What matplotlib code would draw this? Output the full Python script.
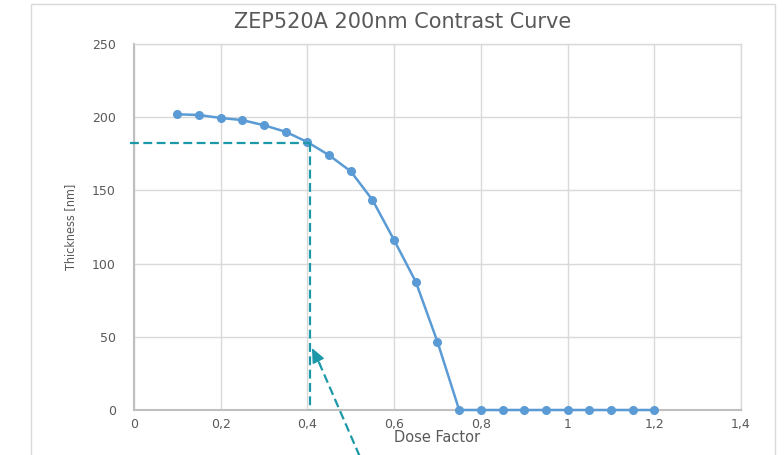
import matplotlib
matplotlib.use("Agg")
import matplotlib.pyplot as plt
from matplotlib.patches import Rectangle

dose = [0.10, 0.15, 0.20, 0.25, 0.30, 0.35, 0.40, 0.45, 0.50, 0.55, 0.60, 0.65, 0.70,
        0.75, 0.80, 0.85, 0.90, 0.95, 1.00, 1.05, 1.10, 1.15, 1.20]
thickness = [202, 201.5, 199.5, 198, 194.5, 190, 183, 174, 163, 143.5, 116, 87.5, 46.5,
             0, 0, 0, 0, 0, 0, 0, 0, 0, 0]
xticks = [0, 0.2, 0.4, 0.6, 0.8, 1.0, 1.2, 1.4]
xtick_labels = ["0", "0,2", "0,4", "0,6", "0,8", "1", "1,2", "1,4"]
yticks = [0, 50, 100, 150, 200, 250]
ytick_labels = ["0", "50", "100", "150", "200", "250"]
marker_dose = 0.407
marker_thick = 182.5
arrow_tip = (0.4105, 42.3)
arrow_tail = (0.527, -36)

W, H = 784, 455
fig = plt.figure(figsize=(W / 100, H / 100), dpi=100)
ax = fig.add_axes([134 / W, 1 - 410 / H, (741 - 134) / W, (410 - 44) / H])

txt = "#595959"
blue = "#5B9BD5"
teal = "#1D98A8"
grid = "#D9D9D9"

# chart area border
fig.patches.append(Rectangle((31 / W, -0.05), (775 - 31) / W, 1 - 4.5 / H + 0.05,
                             transform=fig.transFigure, fill=False, edgecolor="#D9D9D9",
                             linewidth=1.0, zorder=0))

ax.set_xlim(0, 1.4)
ax.set_ylim(0, 250)
ax.set_xticks(xticks)
ax.set_xticklabels(xtick_labels, family="DejaVu Sans", fontsize=9)
ax.set_yticks(yticks)
ax.set_yticklabels(ytick_labels, family="DejaVu Sans", fontsize=9)
ax.grid(True, color=grid, linewidth=1.0)
ax.set_axisbelow(True)
for s in ["top", "right"]:
    ax.spines[s].set_color(grid)
    ax.spines[s].set_linewidth(1.0)
for s in ["left", "bottom"]:
    ax.spines[s].set_color("#BFBFBF")
    ax.spines[s].set_linewidth(1.5)
ax.tick_params(length=0, colors=txt)
ax.tick_params(axis="y", pad=13)
ax.tick_params(axis="x", pad=6)

ax.plot(dose, thickness, color=blue, linewidth=1.8, marker="o", markersize=5.5,
        markerfacecolor=blue, markeredgecolor=blue, zorder=3, clip_on=False)

dash = (4, 2)
ax.plot([-0.01, marker_dose], [marker_thick, marker_thick], color=teal, linewidth=1.6,
        linestyle=(0, dash), clip_on=False, zorder=4)
ax.plot([marker_dose, marker_dose], [marker_thick, 0], color=teal, linewidth=1.6,
        linestyle=(0, dash), clip_on=False, zorder=4)

# arrow: dashed shaft + solid head
ax.plot([arrow_tail[0], arrow_tip[0] + 0.012], [arrow_tail[1], arrow_tip[1] - 7],
        color=teal, linewidth=1.6, linestyle=(0, dash), clip_on=False, zorder=4)
ax.annotate("", xy=arrow_tip, xytext=(arrow_tip[0] + 0.02, arrow_tip[1] - 12),
            arrowprops=dict(arrowstyle="-|>,head_length=0.9,head_width=0.4",
                            color=teal, linewidth=1.0, shrinkA=0, shrinkB=0),
            annotation_clip=False, zorder=5)

fig.text(403 / W, 1 - 22 / H, "ZEP520A 200nm Contrast Curve", ha="center", va="center",
         fontsize=15, color=txt, family="DejaVu Sans")
fig.text(437.5 / W, 1 - 437 / H, "Dose Factor", ha="center", va="center",
         fontsize=10.5, color=txt, family="DejaVu Sans")
fig.text(71 / W, 1 - 227 / H, "Thickness [nm]", ha="center", va="center", rotation=90,
         fontsize=9, color=txt, family="DejaVu Sans", stretch="condensed")

fig.savefig("out.png", dpi=100)
